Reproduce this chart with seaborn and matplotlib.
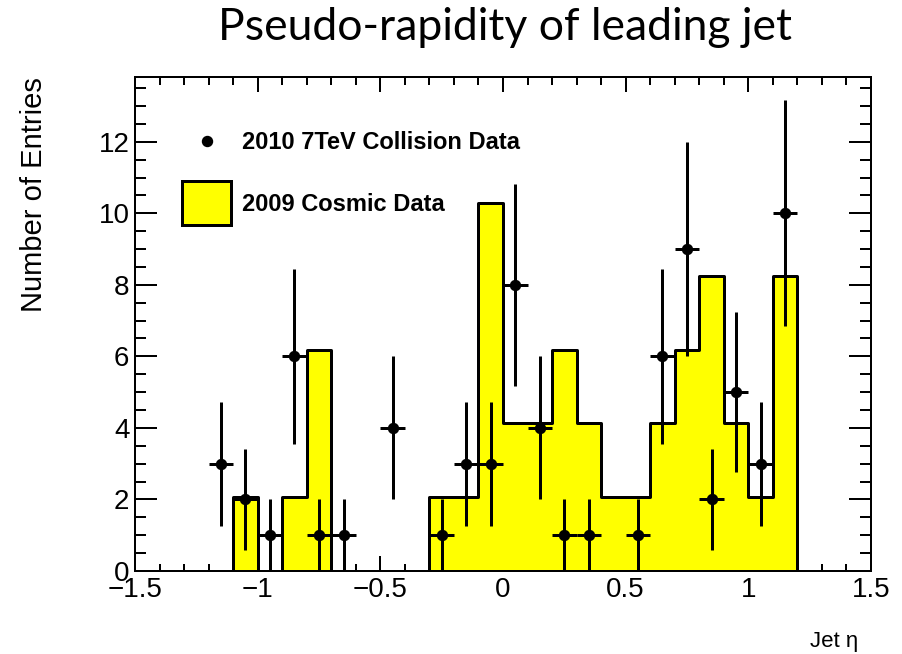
import numpy as np
import pandas as pd
import matplotlib
matplotlib.use("Agg")
import matplotlib.pyplot as plt
from matplotlib.lines import Line2D
from matplotlib.patches import Patch
from matplotlib.ticker import FixedLocator, MultipleLocator
import seaborn as sns

# ---- data ----
bin_edges = [round(-1.5 + 0.1 * i, 2) for i in range(31)]
bin_centers = [round(e + 0.05, 3) for e in bin_edges[:-1]]

# 2009 cosmic data (normalised), one value per 0.1-wide eta bin from -1.5 to 1.5
cosmic_values = [0, 0, 0, 0, 2.07, 0, 2.07, 6.18, 0, 0,
                 0, 0, 2.07, 2.07, 10.30, 4.13, 4.13, 6.18, 4.13, 2.07,
                 2.07, 4.13, 6.18, 8.25, 4.13, 2.07, 8.25, 0, 0, 0]

# 2010 7 TeV collision data: bin centre and entries
collision_eta = [-1.15, -1.05, -0.95, -0.85, -0.75, -0.65, -0.45, -0.25, -0.15, -0.05,
                 0.05, 0.15, 0.25, 0.35, 0.55, 0.65, 0.75, 0.85, 0.95, 1.05, 1.15]
collision_counts = [3, 2, 1, 6, 1, 1, 4, 1, 3, 3,
                    8, 4, 1, 1, 1, 6, 9, 2, 5, 3, 10]

x_ticks = [-1.5, -1.0, -0.5, 0.0, 0.5, 1.0, 1.5]
x_tick_labels = ["\u22121.5", "\u22121", "\u22120.5", "0", "0.5", "1", "1.5"]
y_ticks = [0, 2, 4, 6, 8, 10, 12]
y_tick_labels = ["0", "2", "4", "6", "8", "10", "12"]

title_text = "Pseudo-rapidity of leading jet"
x_label = "Jet \u03b7"
y_label = "Number of Entries"
legend_labels = ["2010 7TeV Collision Data", "2009 Cosmic Data"]

cosmic_df = pd.DataFrame({"eta": bin_centers, "entries": cosmic_values})

# ---- style ----
sns.set_style("ticks")
plt.rcParams["font.family"] = ["Liberation Sans", "DejaVu Sans"]
plt.rcParams.update({"text.color": "black", "axes.labelcolor": "black",
                     "xtick.color": "black", "ytick.color": "black"})

W, H, DPI = 902, 654, 100
fig = plt.figure(figsize=(W / DPI, H / DPI), dpi=DPI)
ax = fig.add_axes([135 / W, 1 - 571 / H, 736 / W, 494 / H])

px = 72.0 / DPI  # points per pixel

# cosmic histogram
sns.histplot(data=cosmic_df, x="eta", weights="entries", bins=bin_edges,
             element="step", fill=True, color="#ffff00", alpha=1.0,
             edgecolor="black", linewidth=3 * px, ax=ax, zorder=2)

# collision data with Poisson errors
counts = np.array(collision_counts, dtype=float)
ax.errorbar(collision_eta, counts, xerr=0.05, yerr=np.sqrt(counts),
            fmt="o", color="black", ms=10 * px, elinewidth=3 * px,
            capsize=0, zorder=4)

ax.set_xlim(-1.5, 1.5)
ax.set_ylim(0, 13.81)

ax.xaxis.set_major_locator(FixedLocator(x_ticks))
ax.set_xticklabels(x_tick_labels)
ax.xaxis.set_minor_locator(MultipleLocator(0.1))
ax.yaxis.set_major_locator(FixedLocator(y_ticks))
ax.set_yticklabels(y_tick_labels)
ax.yaxis.set_minor_locator(MultipleLocator(0.5))

for s in ax.spines.values():
    s.set_linewidth(2 * px)
    s.set_color("black")
    s.set_zorder(5)

ax.tick_params(which="both", direction="in", top=True, right=True,
               width=2 * px, color="black", labelsize=20, labelcolor="black")
ax.tick_params(axis="x", which="major", length=15 * px, pad=4)
ax.tick_params(axis="x", which="minor", length=7.5 * px)
ax.tick_params(axis="y", which="major", length=22 * px, pad=4)
ax.tick_params(axis="y", which="minor", length=11 * px)

ax.set_xlabel(x_label, fontsize=16, loc="right")
ax.xaxis.set_label_coords((858 - 135) / 736, (571 - 631) / 494)
ax.set_ylabel(y_label, fontsize=21, loc="top")
ax.yaxis.set_label_coords((48 - 135) / 736, 1.0)

fig.text(505 / W, 1 - 40 / H, title_text, ha="center", va="baseline",
         fontsize=32, family=["Lato", "DejaVu Sans"])

handles = [
    Line2D([], [], marker="o", color="black", linestyle="none", markersize=10 * px),
    Patch(facecolor="#ffff00", edgecolor="black", linewidth=3 * px),
]
leg = ax.legend(handles, legend_labels, loc="upper left",
                bbox_to_anchor=(182 / W, 1 - 120 / H), bbox_transform=fig.transFigure,
                frameon=False, borderpad=0, borderaxespad=0,
                prop={"weight": "bold", "size": 17},
                handlelength=2.08, handleheight=2.49, labelspacing=0.735,
                handletextpad=0.45)
# centre the legend marker on the text line rather than the tall handle box
marker_handle = leg.legend_handles[0]
marker_handle.set_ydata(np.full_like(np.asarray(marker_handle.get_ydata(), dtype=float), 6.1))

fig.savefig("out.png", dpi=DPI)
